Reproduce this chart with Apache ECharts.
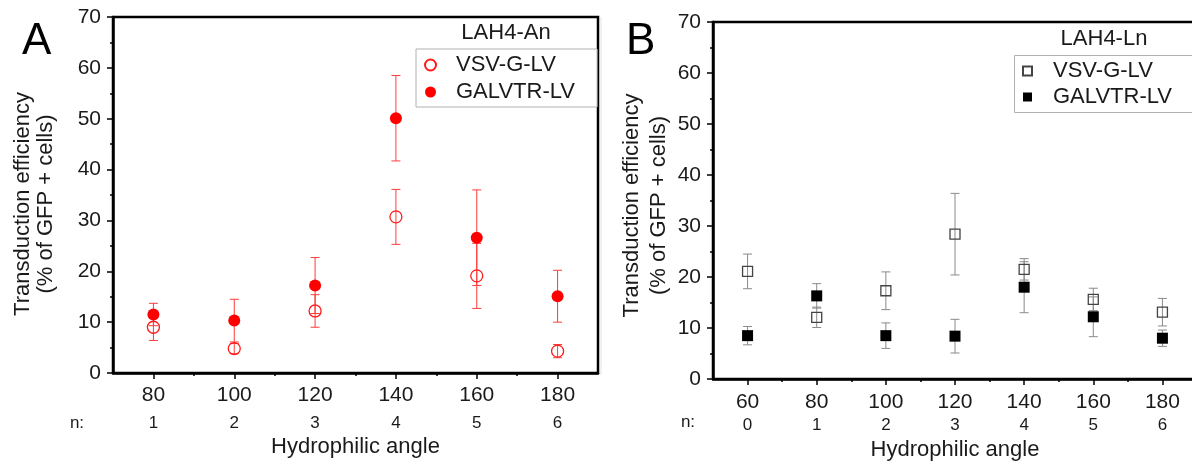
<!DOCTYPE html>
<html>
<head>
<meta charset="utf-8">
<script src="https://cdn.jsdelivr.net/npm/echarts@6/dist/echarts.min.js"></script>
<style>
  html, body { margin: 0; padding: 0; background: #fff; }
  #chart { width: 1192px; height: 465px; }
</style>
</head>
<body>
<div id="chart"></div>
<script>
// panel A: LAH4-An
var anglesA = [80, 100, 120, 140, 160, 180]
var nA = [1, 2, 3, 4, 5, 6]
var vsvA = [9.0, 4.8, 12.2, 30.7, 19.1, 4.3]
var vsvErrA = [2.6, 1.0, 3.2, 5.4, 6.4, 1.3]
var galvA = [11.5, 10.3, 17.2, 50.1, 26.6, 15.1]
var galvErrA = [2.2, 4.2, 5.5, 8.4, 9.4, 5.1]

// panel B: LAH4-Ln
var anglesB = [60, 80, 100, 120, 140, 160, 180]
var nB = [0, 1, 2, 3, 4, 5, 6]
var vsvB = [21.1, 12.1, 17.3, 28.4, 21.5, 15.6, 13.1]
var vsvErrB = [3.4, 2.0, 3.7, 8.0, 2.1, 2.2, 2.7]
var galvB = [8.5, 16.3, 8.5, 8.4, 18.0, 12.2, 8.0]
var galvErrB = [1.8, 2.4, 2.5, 3.3, 5.0, 3.9, 1.6]

var minorTicksA = [90, 110, 130, 150, 170]
var minorTicksB = [70, 90, 110, 130, 150, 170]

var font = "'Liberation Sans', Arial, sans-serif"
var textColor = '#1a1a1a'

function points (xs, ys) {
  return xs.map(function (x, i) { return [x, ys[i]] })
}
function errRows (xs, ys, es) {
  return xs.map(function (x, i) { return [x, ys[i] - es[i], ys[i] + es[i]] })
}

function errorBar (color) {
  return function (params, api) {
    var x = api.value(0)
    var lo = api.coord([x, api.value(1)])
    var hi = api.coord([x, api.value(2)])
    var half = 4.5
    var style = { stroke: color, lineWidth: 1 }
    return {
      type: 'group',
      children: [
        { type: 'line', shape: { x1: lo[0], y1: lo[1], x2: hi[0], y2: hi[1] }, style: style },
        { type: 'line', shape: { x1: lo[0] - half, y1: lo[1], x2: lo[0] + half, y2: lo[1] }, style: style },
        { type: 'line', shape: { x1: hi[0] - half, y1: hi[1], x2: hi[0] + half, y2: hi[1] }, style: style }
      ]
    }
  }
}

function mainX (gridIndex, min, angles, ns, lh1, lh2, gap) {
  return {
    type: 'value', gridIndex: gridIndex, position: 'bottom',
    min: min, max: 190,
    axisLine: { lineStyle: { color: '#000', width: 2.5 } },
    axisTick: { inside: false, length: 6, lineStyle: { color: '#000', width: 1.5 }, customValues: angles },
    axisLabel: {
      customValues: angles,
      margin: 7,
      formatter: function (v) {
        return '{v|' + v + '}\n{n|' + ns[angles.indexOf(v)] + '}'
      },
      rich: {
        v: { fontSize: 21, lineHeight: lh1, fontFamily: font, color: textColor },
        n: { fontSize: 17, lineHeight: lh2, fontFamily: font, color: textColor }
      }
    },
    splitLine: { show: false },
    name: 'Hydrophilic angle',
    nameLocation: 'middle',
    nameGap: gap,
    nameTextStyle: { fontSize: 22, fontFamily: font, color: textColor }
  }
}

function minorX (gridIndex, min, ticks) {
  return {
    type: 'value', gridIndex: gridIndex, position: 'bottom',
    min: min, max: 190,
    axisLine: { show: false },
    axisTick: { inside: false, length: 3, lineStyle: { color: '#000', width: 1.5 }, customValues: ticks },
    axisLabel: { show: false },
    splitLine: { show: false }
  }
}

function yAx (gridIndex, gap, lh, shift) {
  return {
    type: 'value', gridIndex: gridIndex,
    min: 0, max: 70, interval: 10,
    axisLine: { show: true, lineStyle: { color: '#000', width: 2.5 } },
    axisTick: { show: true, inside: false, length: 6, lineStyle: { color: '#000', width: 1.5 } },
    minorTick: { show: true, splitNumber: 2, length: 3, lineStyle: { color: '#000', width: 1.5 } },
    axisLabel: { fontSize: 21, margin: 12, fontFamily: font, color: textColor },
    splitLine: { show: false },
    name: 'Transduction efficiency\n(% of GFP + cells)',
    nameLocation: 'middle',
    nameGap: gap,
    nameTextStyle: { fontSize: 22, lineHeight: lh, fontFamily: font, color: textColor, padding: [0, shift, 0, 0] }
  }
}

function legendBox (name1, name2, left, top, iconW, iconH, gap, textPad, padRight, border) {
  return {
    data: [name1, name2].map(function (n) { return { name: n } }),
    orient: 'vertical',
    left: left, top: top,
    itemWidth: iconW, itemHeight: iconH, itemGap: gap,
    padding: [5, padRight, 4, 8],
    borderColor: '#b0b0b0', borderWidth: border ? 1 : 0,
    backgroundColor: border ? '#fff' : 'transparent',
    textStyle: { fontSize: 22, lineHeight: 22, fontFamily: font, color: textColor, padding: [0, 0, 0, textPad] },
    selectedMode: false
  }
}

var chart = echarts.init(document.getElementById('chart'), null, { renderer: 'canvas' })

var option = {
  animation: false,
  backgroundColor: '#fff',
  grid: [
    { left: 113, top: 17, width: 485, height: 356, outerBoundsMode: 'none', show: true, borderColor: '#000', borderWidth: 2.5, backgroundColor: 'transparent' },
    { left: 713, top: 22, width: 484, height: 357, outerBoundsMode: 'none', show: true, borderColor: '#000', borderWidth: 2.5, backgroundColor: 'transparent' }
  ],
  xAxis: [
    mainX(0, 70, anglesA, nA, 30, 26, 63),
    minorX(0, 70, minorTicksA),
    mainX(1, 50, anglesB, nB, 32, 14, 60),
    minorX(1, 50, minorTicksB)
  ],
  yAxis: [yAx(0, 56, 23, 18), yAx(1, 41, 27, 10)],
  legend: [
    legendBox('VSV-G-LV ', 'GALVTR-LV ', 416, 49, 11, 11, 5, 15, 16, true),
    legendBox('VSV-G-LV', 'GALVTR-LV', 1014, 55, 9, 9, 4, 16, 10, false)
  ],
  graphic: [
    { type: 'text', left: 22, top: 20, style: { text: 'A', fontSize: 44, fontFamily: font, fill: '#000' } },
    { type: 'text', left: 626, top: 20, style: { text: 'B', fontSize: 44, fontFamily: font, fill: '#000' } },
    { type: 'text', x: 77, y: 423, style: { text: 'n:', fontSize: 17, fontFamily: font, fill: textColor, align: 'center', verticalAlign: 'middle' } },
    { type: 'text', x: 688, y: 422, style: { text: 'n:', fontSize: 17, fontFamily: font, fill: textColor, align: 'center', verticalAlign: 'middle' } },
    { type: 'text', x: 506, y: 33, style: { text: 'LAH4-An', fontSize: 22, fontFamily: font, fill: textColor, align: 'center', verticalAlign: 'middle' } },
    { type: 'text', x: 1104, y: 39, style: { text: 'LAH4-Ln', fontSize: 22, fontFamily: font, fill: textColor, align: 'center', verticalAlign: 'middle' } },
    // legend frame of panel B runs past the right edge of the picture
    { type: 'rect', z: 3, shape: { x: 1014.5, y: 55.5, width: 200, height: 57 }, style: { fill: '#fff', stroke: '#b0b0b0', lineWidth: 1 } },
    { type: 'line', shape: { x1: 601, y1: 17, x2: 601, y2: 375 }, style: { stroke: '#e2e2e2', lineWidth: 1 } }
  ],
  series: [
    // panel A
    { type: 'custom', name: 'errA1', xAxisIndex: 0, yAxisIndex: 0, z: 1, renderItem: errorBar('#ff3b3b'), encode: { x: 0, y: [1, 2] }, data: errRows(anglesA, vsvA, vsvErrA) },
    { type: 'custom', name: 'errA2', xAxisIndex: 0, yAxisIndex: 0, z: 1, renderItem: errorBar('#ff3b3b'), encode: { x: 0, y: [1, 2] }, data: errRows(anglesA, galvA, galvErrA) },
    {
      type: 'scatter', name: 'VSV-G-LV ', xAxisIndex: 0, yAxisIndex: 0, z: 3,
      symbol: 'circle', symbolSize: 12,
      itemStyle: { color: 'transparent', borderColor: '#ff1a1a', borderWidth: 1.3, opacity: 1 },
      data: points(anglesA, vsvA)
    },
    {
      type: 'scatter', name: 'GALVTR-LV ', xAxisIndex: 0, yAxisIndex: 0, z: 4,
      symbol: 'circle', symbolSize: 12,
      itemStyle: { color: '#ff0000', opacity: 1 },
      data: points(anglesA, galvA)
    },
    // panel B
    { type: 'custom', name: 'errB1', xAxisIndex: 2, yAxisIndex: 1, z: 1, renderItem: errorBar('#8a8a8a'), encode: { x: 0, y: [1, 2] }, data: errRows(anglesB, vsvB, vsvErrB) },
    { type: 'custom', name: 'errB2', xAxisIndex: 2, yAxisIndex: 1, z: 1, renderItem: errorBar('#8a8a8a'), encode: { x: 0, y: [1, 2] }, data: errRows(anglesB, galvB, galvErrB) },
    {
      type: 'scatter', name: 'VSV-G-LV', xAxisIndex: 2, yAxisIndex: 1, z: 3,
      symbol: 'rect', symbolSize: 10,
      itemStyle: { color: 'transparent', borderColor: '#444', borderWidth: 1.3, opacity: 1 },
      data: points(anglesB, vsvB)
    },
    {
      type: 'scatter', name: 'GALVTR-LV', xAxisIndex: 2, yAxisIndex: 1, z: 4,
      symbol: 'rect', symbolSize: 11,
      itemStyle: { color: '#000', opacity: 1 },
      data: points(anglesB, galvB)
    }
  ]
}

chart.setOption(option)
window.addEventListener('resize', function () {
  chart.resize()
})
</script>
</body>
</html>
